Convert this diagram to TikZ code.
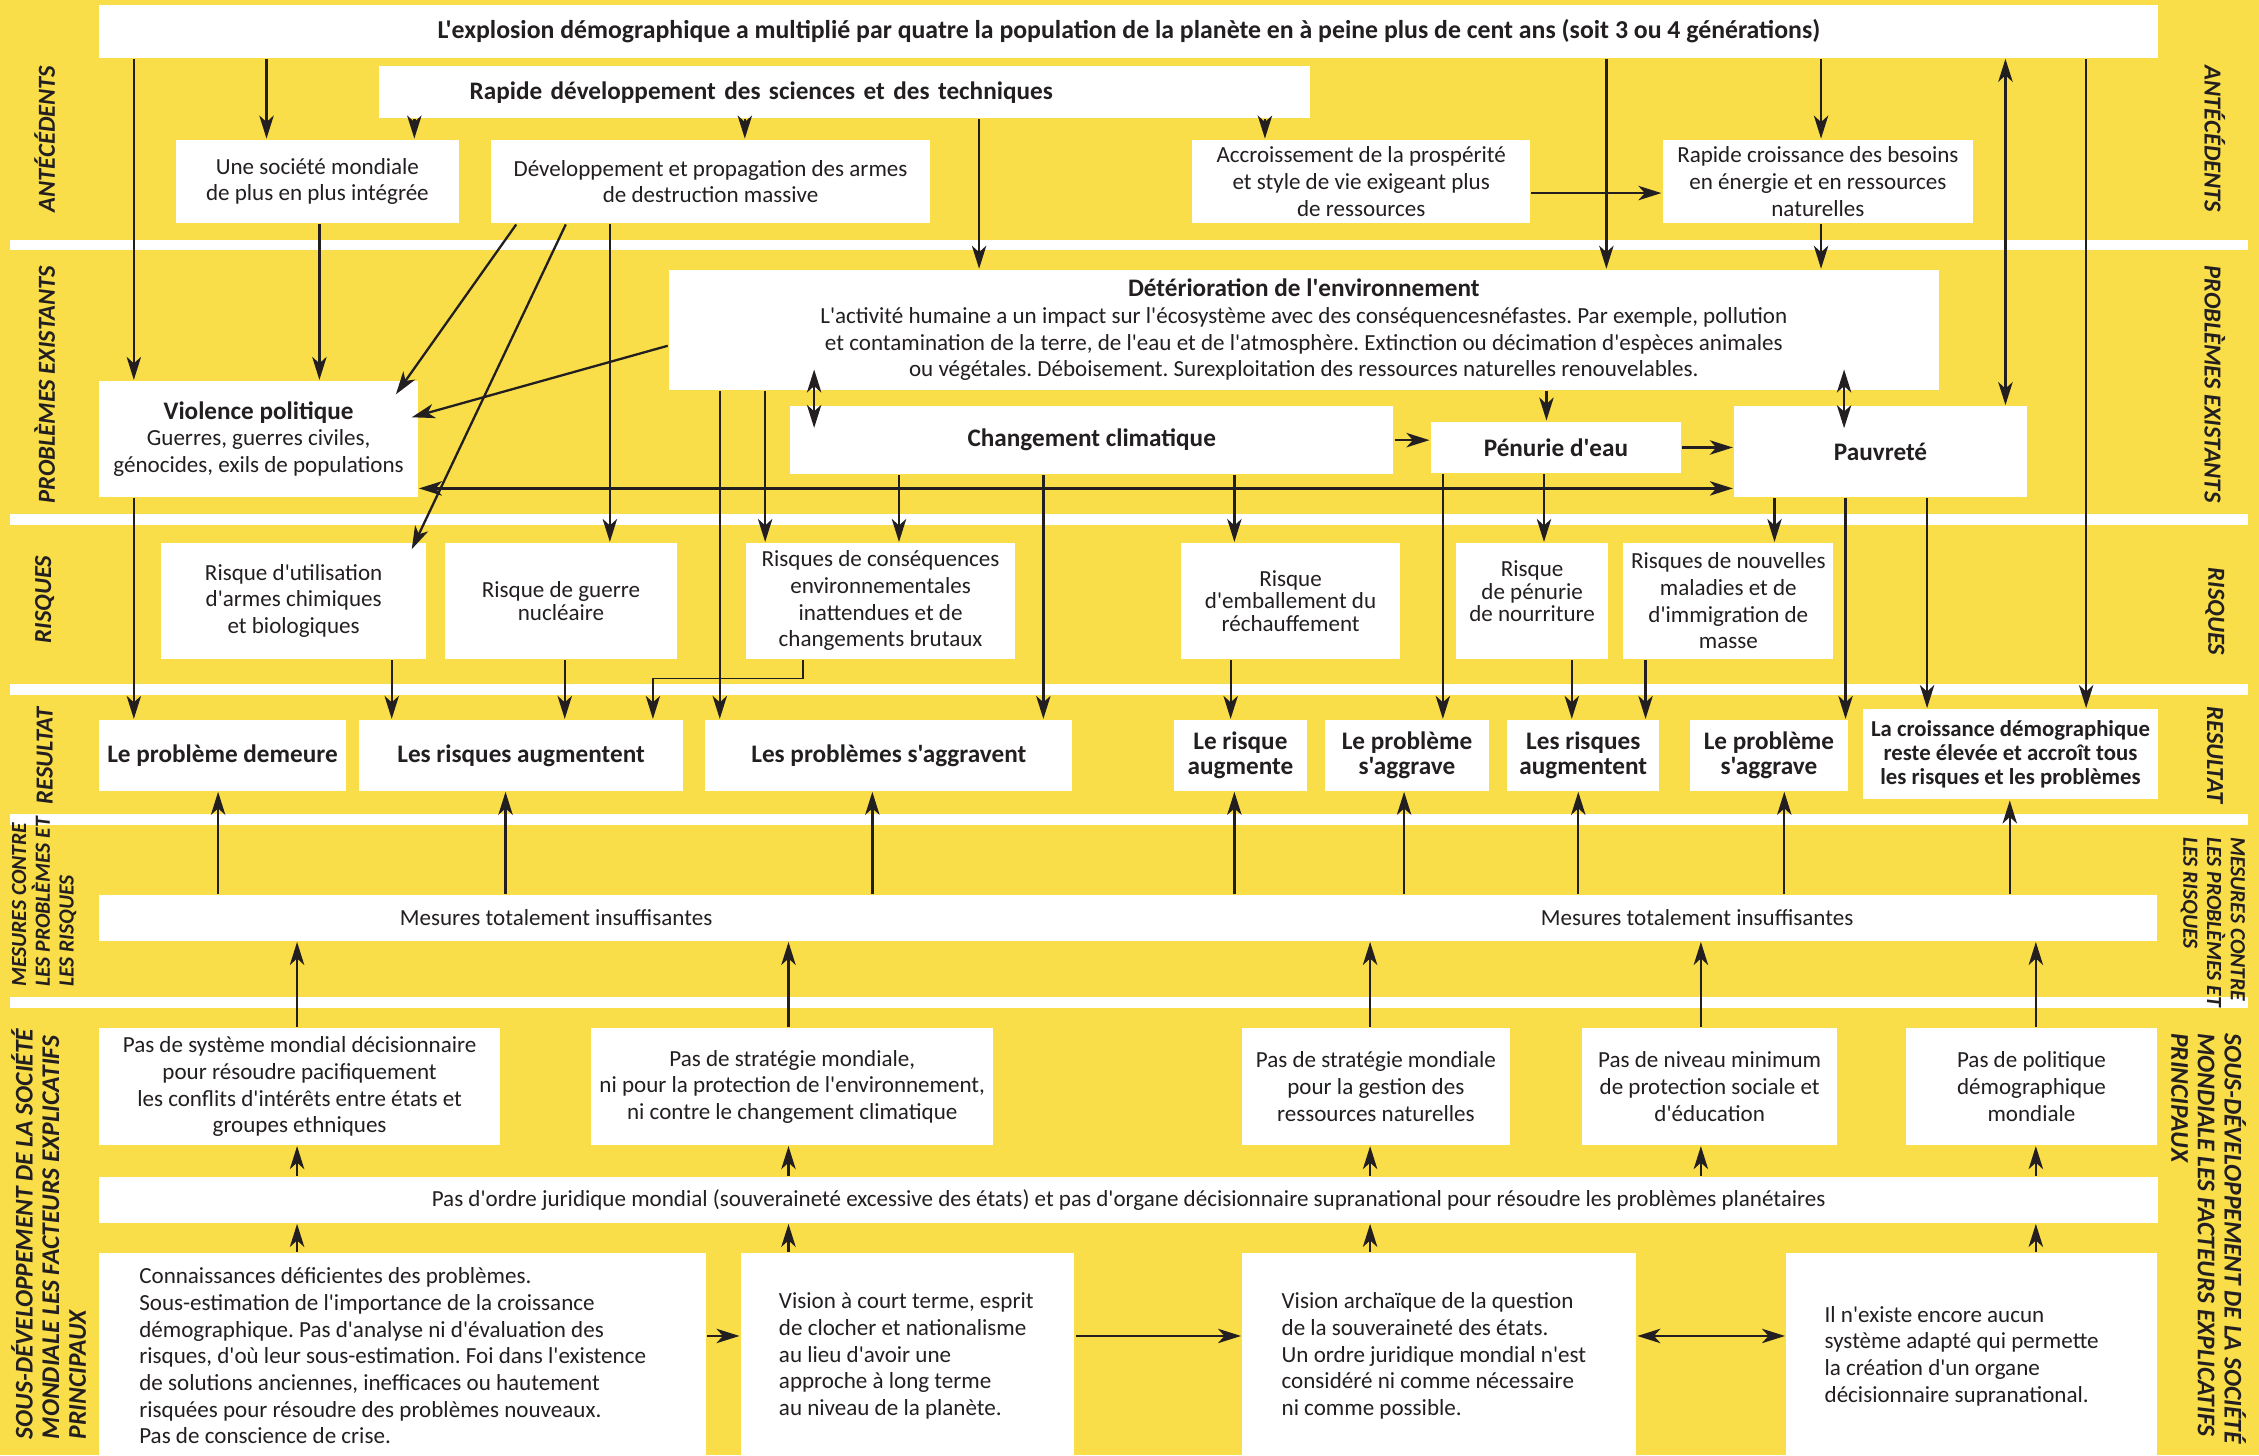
\documentclass[tikz,border=0pt]{standalone}
\usepackage{fontspec}
\setmainfont{Carlito}[Ligatures=TeXOff]
\usetikzlibrary{arrows.meta,calc}
\definecolor{fond}{RGB}{249,222,74}
\definecolor{encre}{RGB}{35,31,32}
\frenchspacing
\tikzset{
  boite/.style={fill=white, inner sep=0pt, align=center, font=\fontsize{16}{18.5}\selectfont},
  serre/.style={font=\fontsize{16}{15.6}\selectfont},
  gras/.style={boite, font=\bfseries\fontsize{17.5}{17.4}\selectfont},
  corps/.style={inner sep=0pt, align=left, anchor=west, font=\fontsize{16}{18.5}\selectfont},
  rub/.style={font=\bfseries\itshape\fontsize{17}{17.5}\selectfont},
  rubm/.style={rotate=#1, anchor=west, align=left, font=\bfseries\itshape\fontsize{15}{16.5}\selectfont},
  rubf/.style={rotate=#1, anchor=west, align=left, font=\bfseries\itshape\fontsize{17.7}{18.5}\selectfont},
}
\begin{document}
\begin{tikzpicture}[x=1pt, y=-1pt, color=encre, line width=1.6pt,
  >={Stealth[length=16pt, width=10pt, inset=4.5pt]}]
\useasboundingbox (0,0) rectangle (1568,1010);
\fill[fond] (0,0) rectangle (1568,1010);
\foreach \a/\b in {166.6/173.5, 356.8/364.4, 474.8/482.4, 565/572.6, 692/699.6}
  \fill[white] (6.7,\a) rectangle (1560,\b);

% rubriques
\node (gA)[rub, rotate=90] at (31, 96.5) {ANTÉCÉDENTS};
\node (gP)[rub, rotate=90] at (31, 267) {PROBLÈMES EXISTANTS};
\node (gR)[rub, rotate=90] at (31, 416) {RISQUES};
\node (gS)[rub, rotate=90] at (31, 524.5) {RESULTAT};
\node (gM)[rubm=90] at (30.6, 689) {MESURES CONTRE\\LES PROBLÈMES ET\\LES RISQUES};
\node (gF)[rubf=90] at (33.7, 1003) {SOUS-DÉVELOPPEMENT DE LA SOCIÉTÉ\\MONDIALE LES FACTEURS EXPLICATIFS\\PRINCIPAUX};
\node (dA)[rub, rotate=-90] at (1537.4, 96.5) {ANTÉCÉDENTS};
\node (dP)[rub, rotate=-90] at (1537.4, 266.5) {PROBLÈMES EXISTANTS};
\node (dR)[rub, rotate=-90] at (1537.4, 424.5) {RISQUES};
\node (dS)[rub, rotate=-90] at (1537.4, 524) {RESULTAT};
\node (dM)[rubm=-90] at (1536, 577) {MESURES CONTRE\\LES PROBLÈMES ET\\LES RISQUES};
\node (dF)[rubf=-90] at (1533, 713) {SOUS-DÉVELOPPEMENT DE LA SOCIÉTÉ\\MONDIALE LES FACTEURS EXPLICATIFS\\PRINCIPAUX};

% antecedents
\node (title)[gras, font=\bfseries\fontsize{17.9}{18}\selectfont, minimum width=1429pt, minimum height=36.5pt] at (783.5, 21.75) {L'explosion démographique a multiplié par quatre la population de la planète en à peine plus de cent ans (soit 3 ou 4 générations)};
\node (sci)[gras, align=left, text width=520pt, minimum width=646pt, minimum height=36pt] at (586, 64) {Rapide développement des sciences et des techniques};
\node (soc)[boite, minimum width=196.6pt, minimum height=58pt] at (220.3, 126) {Une société mondiale\\de plus en plus intégrée};
\node (arm)[boite, minimum width=304.7pt, minimum height=58pt] at (493.2, 126) {Développement et propagation des armes\\de destruction massive};
\node (pros)[boite, minimum width=234.5pt, minimum height=58pt] at (944.8, 126) {Accroissement de la prospérité\\et style de vie exigeant plus\\de ressources};
\node (besoin)[boite, minimum width=215.6pt, minimum height=58pt] at (1261.8, 126) {Rapide croissance des besoins\\en énergie et en ressources\\naturelles};

% problemes existants
\node (env)[boite, minimum width=881.4pt, minimum height=83.3pt] at (905, 229) {{\bfseries\fontsize{17.5}{19}\selectfont Détérioration de l'environnement}\\L'activité humaine a un impact sur l'écosystème avec des conséquencesnéfastes. Par exemple, pollution\\et contamination de la terre, de l'eau et de l'atmosphère. Extinction ou décimation d'espèces animales\\ou végétales. Déboisement. Surexploitation des ressources naturelles renouvelables.};
\node (viol)[boite, minimum width=221pt, minimum height=80.3pt] at (179.5, 304.65) {{\bfseries\fontsize{17.5}{19}\selectfont Violence politique}\\Guerres, guerres civiles,\\génocides, exils de populations};
\node (clim)[gras, minimum width=418.8pt, minimum height=47.4pt] at (757.8, 305.5) {Changement climatique};
\node (eau)[gras, minimum width=174pt, minimum height=35.8pt] at (1080, 310.6) {Pénurie d'eau};
\node (pauv)[gras, minimum width=203.4pt, minimum height=63pt] at (1305.3, 313.5) {Pauvreté};

% risques
\node (chim)[boite, minimum width=184.3pt, minimum height=80.2pt] at (203.85, 417.1) {Risque d'utilisation\\d'armes chimiques\\et biologiques};
\node (nucl)[boite, serre, minimum width=160.7pt, minimum height=80.2pt] at (389.35, 417.1) {Risque de guerre\\nucléaire};
\node (cons)[boite, minimum width=187pt, minimum height=80.2pt] at (611.2, 417.1) {Risques de conséquences\\environnementales\\inattendues et de\\changements brutaux};
\node (emb)[boite, serre, minimum width=152pt, minimum height=80.2pt] at (895.8, 417.1) {Risque\\d'emballement du\\réchauffement};
\node (nour)[boite, serre, minimum width=105.1pt, minimum height=80.2pt] at (1063.45, 417.1) {Risque\\de pénurie\\de nourriture\\[-2pt]\mbox{}};
\node (mal)[boite, minimum width=145.7pt, minimum height=80.2pt] at (1199.65, 417.1) {Risques de nouvelles\\maladies et de\\d'immigration de\\masse};

% resultat
\node (dem)[gras, minimum width=170.9pt, minimum height=49pt] at (154.45, 524.3) {Le problème demeure};
\node (aug1)[gras, minimum width=225.4pt, minimum height=49pt] at (361.7, 524.3) {Les risques augmentent};
\node (aggr1)[gras, minimum width=254.9pt, minimum height=49pt] at (616.95, 524.3) {Les problèmes s'aggravent};
\node (aug2)[gras, minimum width=92.6pt, minimum height=49pt] at (861, 524.3) {Le risque\\augmente};
\node (aggr2)[gras, minimum width=113.8pt, minimum height=49pt] at (976.6, 524.3) {Le problème\\s'aggrave};
\node (aug3)[gras, minimum width=105.5pt, minimum height=49pt] at (1098.95, 524.3) {Les risques\\augmentent};
\node (aggr3)[gras, minimum width=109.7pt, minimum height=49pt] at (1227.85, 524.3) {Le problème\\s'aggrave};
\node (croiss)[gras, font=\bfseries\fontsize{15.8}{16.8}\selectfont, minimum width=205pt, minimum height=62.5pt] at (1395.5, 523.55) {La croissance démographique\\reste élevée et accroît tous\\les risques et les problèmes};

% mesures
\node (mes)[boite, minimum width=1428pt, minimum height=31.8pt] at (783, 637.1) {};
\node (mesa)[font=\fontsize{16}{18.5}\selectfont] at (386, 637.1) {Mesures totalement insuffisantes};
\node (mesb)[font=\fontsize{16}{18.5}\selectfont] at (1178, 637.1) {Mesures totalement insuffisantes};

% sous-developpement
\node (sys)[boite, minimum width=277.9pt, minimum height=80.9pt] at (207.95, 754.25) {Pas de système mondial décisionnaire\\pour résoudre pacifiquement\\les conflits d'intérêts entre états et\\groupes ethniques};
\node (strat)[boite, minimum width=278.8pt, minimum height=80.9pt] at (549.9, 754.25) {Pas de stratégie mondiale,\\ni pour la protection de l'environnement,\\ni contre le changement climatique};
\node (gest)[boite, minimum width=185.6pt, minimum height=80.9pt] at (955, 754.25) {Pas de stratégie mondiale\\pour la gestion des\\ressources naturelles};
\node (prot)[boite, minimum width=177pt, minimum height=80.9pt] at (1186.7, 754.25) {Pas de niveau minimum\\de protection sociale et\\d'éducation};
\node (pol)[boite, minimum width=174.3pt, minimum height=80.9pt] at (1410.05, 754.25) {Pas de politique\\démographique\\mondiale};
\node (ordre)[boite, minimum width=1428.9pt, minimum height=31.5pt] at (783.45, 832.95) {Pas d'ordre juridique mondial (souveraineté excessive des états) et pas d'organe décisionnaire supranational pour résoudre les problèmes planétaires};
\node (conn)[boite, minimum width=421.2pt, minimum height=140.5pt] at (279.6, 939.75) {};
\node (court)[boite, minimum width=231.7pt, minimum height=140.5pt] at (629.95, 939.75) {};
\node (arch)[boite, minimum width=273.5pt, minimum height=140.5pt] at (998.95, 939.75) {};
\node (orga)[boite, minimum width=257.4pt, minimum height=140.5pt] at (1368.5, 939.75) {};
\node (connt)[corps] at (95.9, 941.2) {Connaissances déficientes des problèmes.\\Sous-estimation de l'importance de la croissance\\démographique. Pas d'analyse ni d'évaluation des\\risques, d'où leur sous-estimation. Foi dans l'existence\\de solutions anciennes, inefficaces ou hautement\\risquées pour résoudre des problèmes nouveaux.\\Pas de conscience de crise.};
\node (courtt)[corps] at (539.9, 941.2) {Vision à court terme, esprit\\de clocher et nationalisme\\au lieu d'avoir une\\approche à long terme\\au niveau de la planète.};
\node (archt)[corps] at (888.8, 941.2) {Vision archaïque de la question\\de la souveraineté des états.\\Un ordre juridique mondial n'est\\considéré ni comme nécessaire\\ni comme possible.};
\node (orgat)[corps] at (1265.7, 941.2) {Il n'existe encore aucun\\système adapté qui permette\\la création d'un organe\\décisionnaire supranational.};

% fleches du haut
\draw[->] (title.south -| 92.9,0) -- (viol.north -| 92.9,0) ;
\draw[->] (title.south -| 185,0) -- (soc.north -| 185,0) ;
\draw[->] (title.south -| 1115,0) -- (env.north -| 1115,0) ;
\draw[->] (title.south -| 1264,0) -- (besoin.north -| 1264,0) ;
\draw[<->] (title.south -| 1392,0) -- (pauv.north -| 1392,0) ;
\draw[->] (title.south -| 1448,0) -- (croiss.north -| 1448,0) ;
\draw[->] (sci.south -| 287.6,0) -- (soc.north -| 287.6,0) ;
\draw[->] (sci.south -| 517,0) -- (arm.north -| 517,0) ;
\draw[->] (sci.south -| 679.6,0) -- (env.north -| 679.6,0) ;
\draw[->] (sci.south -| 878,0) -- (pros.north -| 878,0) ;
\draw[->] ([yshift=-8pt]pros.east) -- ([yshift=-8pt]besoin.west) ;
\draw[->] (besoin.south -| 1264,0) -- (env.north -| 1264,0) ;
\draw[->] (soc.south -| 221.7,0) -- (viol.north -| 221.7,0) ;
\draw[->] (arm.south -| 358.3,0) -- ([xshift=-16pt,yshift=-10pt]viol.north east) ;
\draw[->] (arm.south -| 392.7,0) -- ([xshift=-11pt,yshift=-5pt]chim.north east) ;
\draw[->] (arm.south -| 423.3,0) -- (nucl.north -| 423.3,0) ;

% problemes existants
\draw[->] ([yshift=-11pt]env.west) -- ([xshift=-5pt,yshift=15pt]viol.east) ;
\draw[<->, shorten <=-15pt, shorten >=-16pt] (env.south -| 565.1,0) -- (clim.north -| 565.1,0) ;
\draw[<->, shorten <=-15pt, shorten >=-16pt] (env.south -| 1280,0) -- (pauv.north -| 1280,0) ;
\draw[->] (env.south -| 1073.4,0) -- (eau.north -| 1073.4,0) ;
\draw[->] (env.south -| 499.6,0) -- (aggr1.north -| 499.6,0) ;
\draw[->] (env.south -| 531.1,0) -- (cons.north -| 531.1,0) ;
\draw[->] (clim.south -| 624,0) -- (cons.north -| 624,0) ;
\draw[->] (clim.south -| 724.2,0) -- (aggr1.north -| 724.2,0) ;
\draw[->] (clim.south -| 856.8,0) -- (emb.north -| 856.8,0) ;
\draw[->] (clim.east) -- (clim.east -| eau.west) ;
\draw[->] (eau.east) -- (eau.east -| pauv.west) ;
\coordinate (h1) at (0, 339);
\draw[<->] (viol.east |- h1) -- (pauv.west |- h1) ;
\draw[->] (eau.south -| 1071.7,0) -- (nour.north -| 1071.7,0) ;
\draw[->] (eau.south -| 1001.5,0) -- (aggr2.north -| 1001.5,0) ;
\draw[->] (pauv.south -| 1231.7,0) -- (mal.north -| 1231.7,0) ;
\draw[->] (pauv.south -| 1281,0) -- (aggr3.north -| 1281,0) ;
\draw[->] (pauv.south -| 1337.6,0) -- (croiss.north -| 1337.6,0) ;

% risques vers resultat
\draw[->] (viol.south -| 92.9,0) -- (dem.north -| 92.9,0) ;
\draw[->] (chim.south -| 271.9,0) -- (aug1.north -| 271.9,0) ;
\draw[->] (nucl.south -| 392,0) -- (aug1.north -| 392,0) ;
\draw[->, line width=1pt] (cons.south -| 557.4,0) -- (557.4,470.8) -| (aug1.north -| 453.2,0) ;
\draw[->] (emb.south -| 854.2,0) -- (aug2.north -| 854.2,0) ;
\draw[->] (nour.south -| 1091,0) -- (aug3.north -| 1091,0) ;
\draw[->] (mal.south -| 1142.2,0) -- (aug3.north -| 1142.2,0) ;

% mesures
\foreach \x/\n in {151.4/dem, 350.9/aug1, 605.5/aggr1, 856.8/aug2, 974.6/aggr2, 1095.5/aug3, 1238.5/aggr3, 1395/croiss}
  \draw[->] (mes.north -| \x,0) -- (\n.south -| \x,0) ;
\foreach \x/\n in {206.2/sys, 547.3/strat, 951/gest, 1180.6/prot, 1413.1/pol} {
  \draw[->] (\n.north -| \x,0) -- (mes.south -| \x,0) ;
  \draw[->] (ordre.north -| \x,0) -- (\n.south -| \x,0) ;
}
\foreach \x/\n in {206.2/conn, 547.3/court, 951/arch, 1413.1/orga}
  \draw[->] (\n.north -| \x,0) -- (ordre.south -| \x,0) ;
\coordinate (h2) at (0, 927.3);
\draw[->] (conn.east |- h2) -- (court.west |- h2) ;
\draw[->] (court.east |- h2) -- (arch.west |- h2) ;
\draw[<->] (arch.east |- h2) -- (orga.west |- h2) ;
\end{tikzpicture}
\end{document}
